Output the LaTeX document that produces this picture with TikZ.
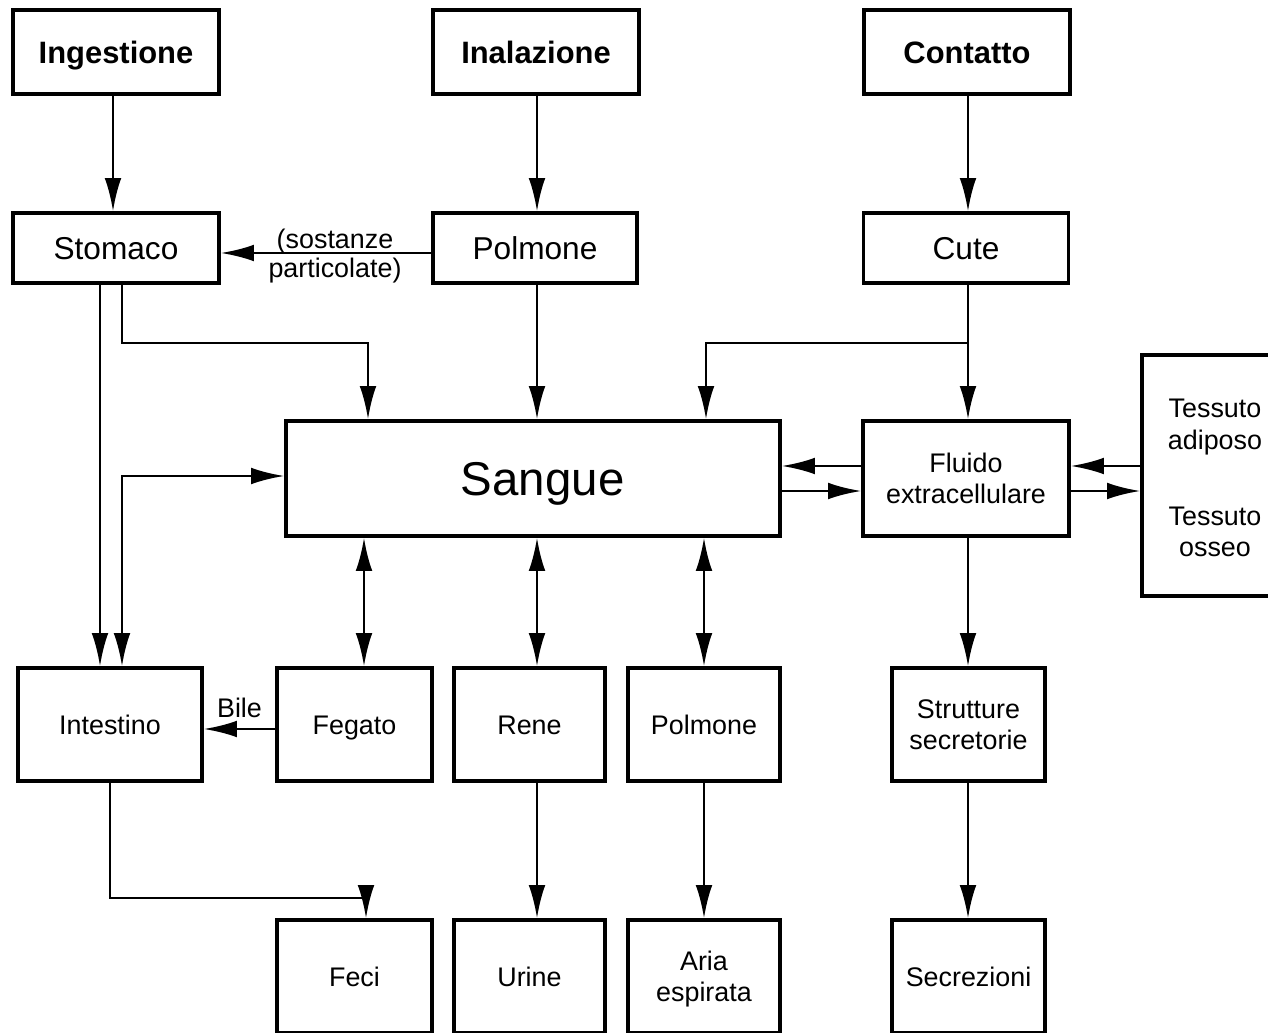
\documentclass[tikz,border=0pt]{standalone}
\usepackage{fontspec}
\setmainfont{Liberation Sans}
\usetikzlibrary{arrows.meta}
\begin{document}
\begin{tikzpicture}[x=0.02cm,y=-0.02cm,
  box/.style={draw, line width=1.8pt, inner sep=0pt, align=center, text height=11pt, text depth=0pt, font=\fontsize{15.3}{18}\selectfont},
  two/.style={text height=29pt},
  bx/.style 2 args={minimum width=#1*0.02cm, minimum height=#2*0.02cm},
  big/.style={font=\fontsize{18}{21}\selectfont, text height=13pt},
  bold/.style={font=\fontsize{17.6}{20}\selectfont\bfseries, text height=12.7pt},
  huge/.style={font=\fontsize{27}{30}\selectfont, text height=19.5pt},
  lab/.style={inner sep=1pt, align=center, font=\fontsize{15.3}{17}\selectfont},
  arr/.style={line width=1.6pt, -{Latex[length=19pt,width=9.5pt]}},
  darr/.style={line width=1.6pt, {Latex[length=19pt,width=9.5pt]}-{Latex[length=19pt,width=9.5pt]}}]
\useasboundingbox (0,0) rectangle (1268,1033);
% nodes
\node[box,bold,bx={206}{84}] (ing) at (116,52) {Ingestione};
\node[box,bold,bx={206}{84}] (inal) at (536,52) {Inalazione};
\node[box,bold,bx={206}{84}] (cont) at (967,52) {Contatto};
\node[box,big,bx={206}{70}] (stom) at (116,248) {Stomaco};
\node[box,big,bx={204}{70}] (polm1) at (535,248) {Polmone};
\node[box,big,bx={205}{70}] (cute) at (966,248) {Cute};
\node[box,huge,bx={494}{115}] (sang) at (533,478.5) {\hspace*{11pt}Sangue};
\node[box,two,bx={206}{115}] (fluido) at (966,478.5) {Fluido\\extracellulare};
\node[box,bx={158}{241}] (tess) at (1221,475.5) {};
\node[lab,font=\fontsize{15.3}{18}\selectfont] (tessA) at (1215,427) {Tessuto\\adiposo};
\node[lab,font=\fontsize{15.3}{18}\selectfont] (tessB) at (1215,532) {Tessuto\\osseo};
\node[box,bx={184}{113}] (intest) at (110,724.5) {Intestino};
\node[box,bx={155}{113}] (fegato) at (354.5,724.5) {Fegato};
\node[box,bx={151}{113}] (rene) at (529.5,724.5) {Rene};
\node[box,bx={152}{113}] (polm2) at (704,724.5) {Polmone};
\node[box,two,bx={153}{113}] (strut) at (968.5,724.5) {Strutture\\secretorie};
\node[box,bx={155}{113}] (feci) at (354.5,976.5) {Feci};
\node[box,bx={151}{113}] (urine) at (529.5,976.5) {Urine};
\node[box,two,bx={152}{113}] (aria) at (704,976.5) {Aria\\espirata};
\node[box,bx={153}{113}] (secr) at (968.5,976.5) {Secrezioni};
% helper coordinates
\coordinate (c100) at (100,0);
\coordinate (c110) at (110,0);
\coordinate (c113) at (113,0);
\coordinate (c122) at (122,0);
\coordinate (c364) at (364,0);
\coordinate (c366) at (366,0);
\coordinate (c368) at (368,0);
\coordinate (c537) at (537,0);
\coordinate (c704) at (704,0);
\coordinate (c706) at (706,0);
\coordinate (c968) at (968,0);
\coordinate (r253) at (0,253);
\coordinate (r343) at (0,343);
\coordinate (r466) at (0,466);
\coordinate (r476) at (0,476);
\coordinate (r491) at (0,491);
\coordinate (r729) at (0,729);
\coordinate (r898) at (0,898);
% connectors
\draw[arr] (ing.south -| c113) -- (stom.north -| c113);
\draw[arr] (inal.south -| c537) -- (polm1.north -| c537);
\draw[arr] (cont.south -| c968) -- (cute.north -| c968);
\draw[arr] (polm1.west |- r253) -- (stom.east |- r253);
\node[lab] (part) at (335,256) {(sostanze\\particolate)};
\draw[arr] (stom.south -| c100) -- (intest.north -| c100);
\draw[arr] (stom.south -| c122) |- (c368 |- r343) -- (sang.north -| c368);
\draw[darr] (intest.north -| c122) |- (sang.west |- r476);
\draw[arr] (polm1.south -| c537) -- (sang.north -| c537);
\draw[arr] (cute.south -| c968) -- (fluido.north -| c968);
\draw[arr] (c968 |- r343) -| (sang.north -| c706);
\draw[arr] (fluido.west |- r466) -- (sang.east |- r466);
\draw[arr] (sang.east |- r491) -- (fluido.west |- r491);
\draw[arr] (tess.west |- r466) -- (fluido.east |- r466);
\draw[arr] (fluido.east |- r491) -- (tess.west |- r491);
\draw[darr] (sang.south -| c364) -- (fegato.north -| c364);
\draw[darr] (sang.south -| c537) -- (rene.north -| c537);
\draw[darr] (sang.south -| c704) -- (polm2.north -| c704);
\draw[arr] (fluido.south -| c968) -- (strut.north -| c968);
\draw[arr] (fegato.west |- r729) -- node[lab, above=4.5pt] (bile) {Bile} (intest.east |- r729);
\draw[arr] (intest.south -| c110) |- (c366 |- r898) -- (feci.north -| c366);
\draw[arr] (rene.south -| c537) -- (urine.north -| c537);
\draw[arr] (polm2.south -| c704) -- (aria.north -| c704);
\draw[arr] (strut.south -| c968) -- (secr.north -| c968);
\end{tikzpicture}
\end{document}
